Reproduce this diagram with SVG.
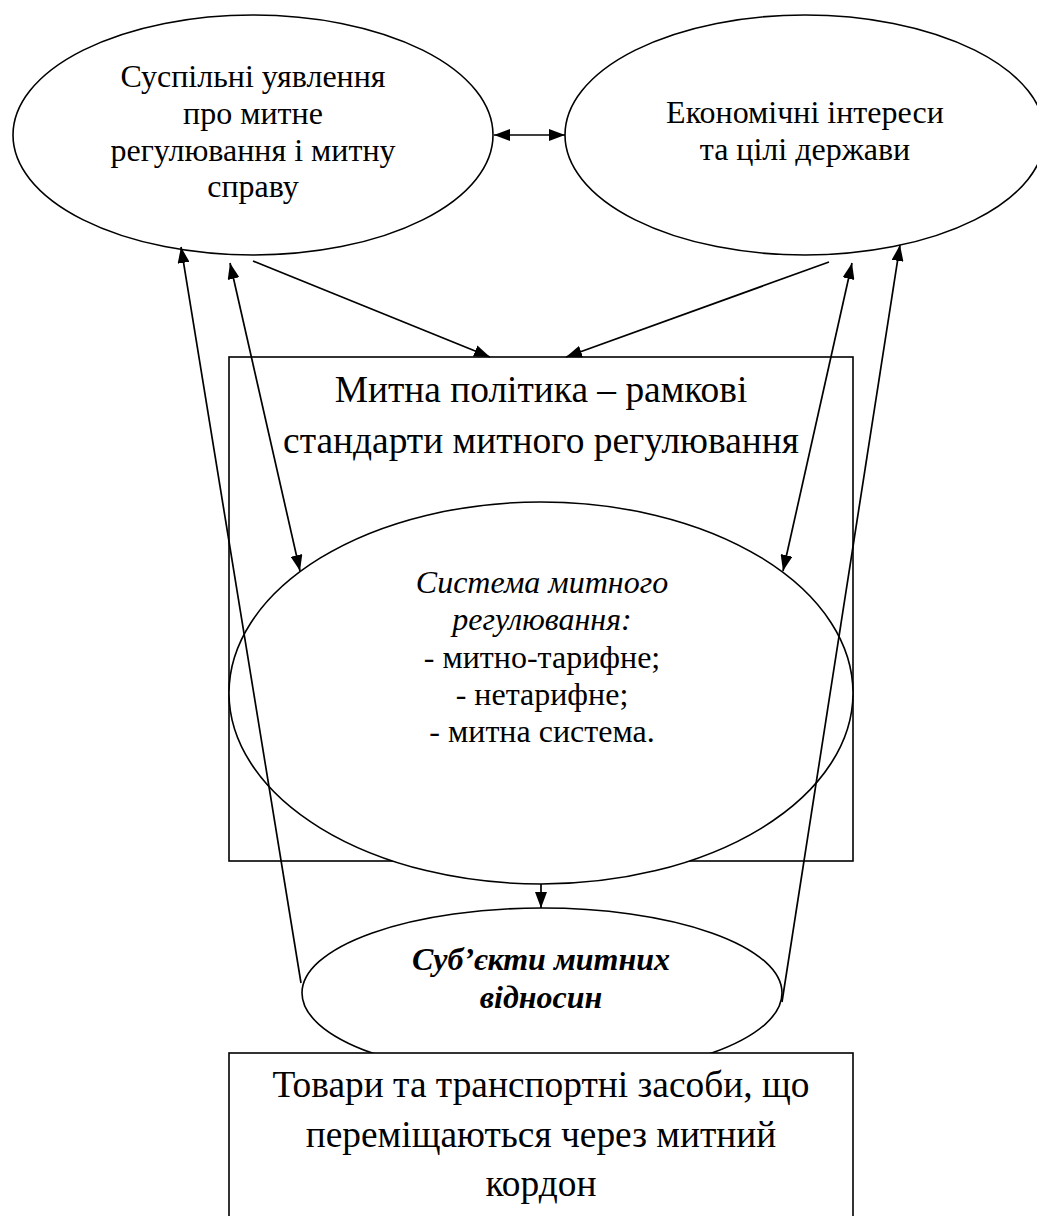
<svg xmlns="http://www.w3.org/2000/svg" width="1037" height="1216" viewBox="0 0 1037 1216">
<style>
.shape{fill:#fff;stroke:#000;stroke-width:1.6}
.t{font-family:"Liberation Serif","Times New Roman",serif;fill:#000;text-anchor:middle}
.s{font-size:32px}
.l{font-size:37.4px}
.it{font-style:italic}
.bi{font-style:italic;font-weight:bold}
.c{stroke:#000;stroke-width:1.7;fill:none}
</style>
<defs>
<marker id="ah" viewBox="0 0 16 12" refX="16" refY="6" markerWidth="16" markerHeight="12" markerUnits="userSpaceOnUse" orient="auto-start-reverse">
<path d="M0,0 L16,6 L0,12 z" fill="#000"/>
</marker>
</defs>
<rect width="1037" height="1216" fill="#fff"/>
<g id="node-public">
<ellipse class="shape" cx="253" cy="135" rx="240" ry="120"/>
<text class="t s"><tspan x="253" y="87">Суспільні уявлення</tspan><tspan x="253" y="124">про митне</tspan><tspan x="253" y="161">регулювання і митну</tspan><tspan x="253" y="197">справу</tspan></text>
</g>
<g id="node-economic">
<ellipse class="shape" cx="805" cy="135" rx="240" ry="120"/>
<text class="t s"><tspan x="805" y="123">Економічні інтереси</tspan><tspan x="805" y="160">та цілі держави</tspan></text>
</g>
<g id="node-policy">
<rect class="shape" x="229" y="357" width="624" height="504"/>
<text class="t l"><tspan x="541" y="402">Митна політика – рамкові</tspan><tspan x="541" y="453">стандарти митного регулювання</tspan></text>
</g>
<g id="node-system">
<ellipse class="shape" cx="541" cy="693" rx="312" ry="191"/>
<text class="t s"><tspan class="it" x="542" y="593">Система митного</tspan><tspan class="it" x="542" y="630">регулювання:</tspan><tspan x="542" y="668">- митно-тарифне;</tspan><tspan x="542" y="705">- нетарифне;</tspan><tspan x="542" y="742">- митна система.</tspan></text>
</g>
<g id="node-subjects">
<ellipse class="shape" cx="542" cy="993" rx="240" ry="85"/>
<text class="t s bi"><tspan x="541" y="970">Суб’єкти митних</tspan><tspan x="541" y="1008">відносин</tspan></text>
</g>
<g id="node-goods">
<rect class="shape" x="229" y="1053" width="624" height="200"/>
<text class="t l"><tspan x="541" y="1097">Товари та транспортні засоби, що</tspan><tspan x="541" y="1147">переміщаються через митний</tspan><tspan x="541" y="1196">кордон</tspan></text>
</g>
<g id="connectors">
<line class="c" x1="494" y1="135" x2="565" y2="135" marker-start="url(#ah)" marker-end="url(#ah)"/>
<line class="c" x1="253" y1="261" x2="490" y2="357" marker-end="url(#ah)"/>
<line class="c" x1="829" y1="262" x2="566" y2="357" marker-end="url(#ah)"/>
<line class="c" x1="230" y1="263" x2="300" y2="571" marker-start="url(#ah)" marker-end="url(#ah)"/>
<line class="c" x1="852" y1="263" x2="783" y2="571" marker-start="url(#ah)" marker-end="url(#ah)"/>
<line class="c" x1="301" y1="983" x2="181" y2="247" marker-end="url(#ah)"/>
<line class="c" x1="782" y1="1002" x2="900" y2="245" marker-end="url(#ah)"/>
<line class="c" x1="541" y1="884" x2="541" y2="908" marker-end="url(#ah)"/>
</g>
</svg>
